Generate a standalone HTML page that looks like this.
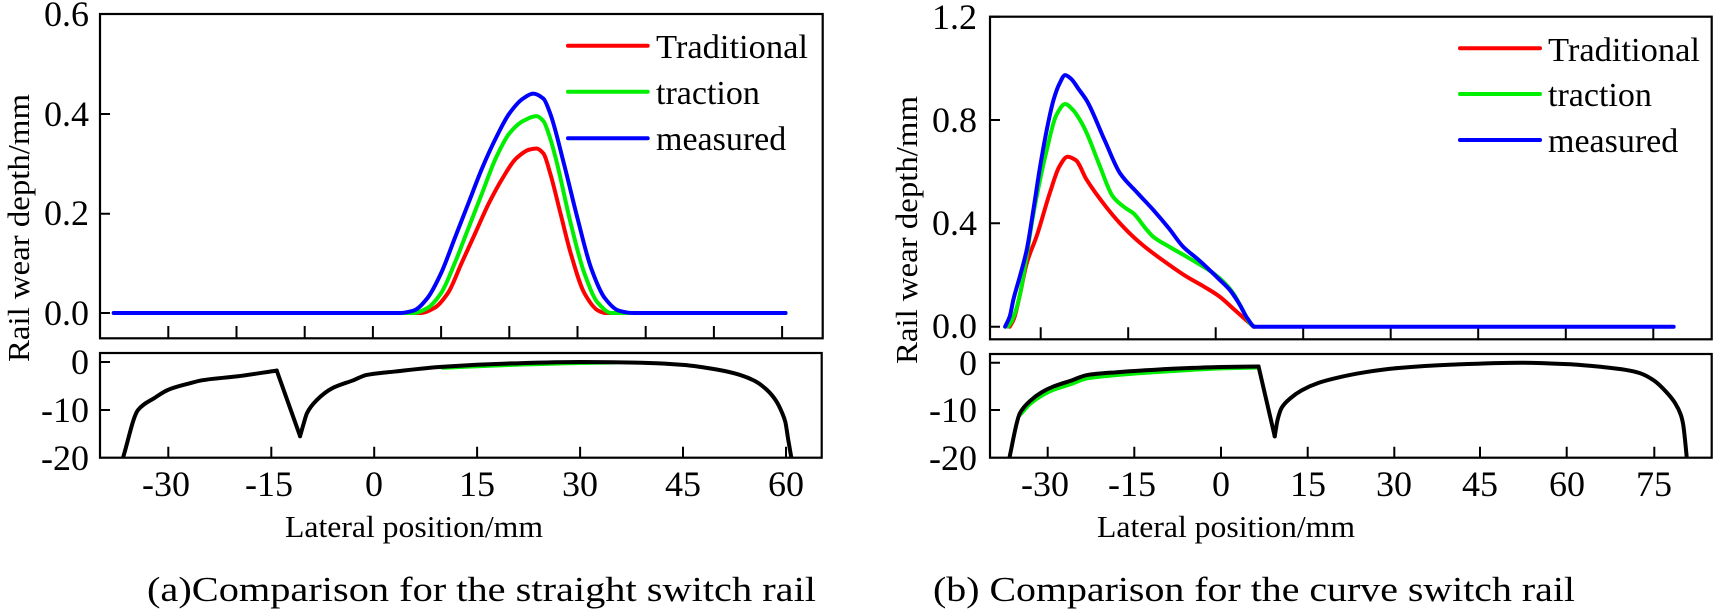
<!DOCTYPE html>
<html><head><meta charset="utf-8"><style>
html,body{margin:0;padding:0;background:#fff;}
svg{display:block;}
text{font-family:"Liberation Serif",serif;fill:#000;}
.s{fill:none;stroke-width:4;vector-effect:non-scaling-stroke;stroke-linejoin:round;stroke-linecap:round;}
.ax{fill:none;stroke:#000;stroke-width:2.2;}
.tk{font-size:36px;}
</style></head><body>
<svg id="sv" width="1714" height="615" viewBox="0 0 1714 615" xmlns="http://www.w3.org/2000/svg">
<defs>
<clipPath id="cl"><rect x="100" y="353" width="722" height="105"/></clipPath>
<clipPath id="cr"><rect x="990" y="354" width="722" height="104"/></clipPath>
</defs>

<!-- LEFT CHART -->
<rect class="ax" x="100" y="14" width="722.7" height="324.3"/>
<rect class="ax" x="100" y="353" width="721.7" height="104.7"/>
<g stroke="#000" stroke-width="2">
<path d="M100 114h10M100 213.7h10M100 313h10M100 14h10"/>
<path d="M168.3 338v-12M236.5 338v-12M304.7 338v-12M372.9 338v-12M441.1 338v-12M509.3 338v-12M577.5 338v-12M645.7 338v-12M713.9 338v-12M782.1 338v-12"/>
<path d="M100 362h10M100 410h10"/>
<path d="M168.3 457.7v-11M271.3 457.7v-11M374.2 457.7v-11M477.1 457.7v-11M580.1 457.7v-11M683.0 457.7v-11M786 457.7v-11"/>
</g>
<g class="tk" text-anchor="end">
<text x="89" y="26">0.6</text><text x="89" y="126">0.4</text><text x="89" y="225">0.2</text><text x="89" y="325">0.0</text>
<text x="89" y="374">0</text><text x="89" y="422">-10</text><text x="89" y="470">-20</text>
</g>
<g class="tk" text-anchor="middle">
<text x="166" y="496">-30</text><text x="269" y="496">-15</text><text x="374" y="496">0</text><text x="477" y="496">15</text><text x="580" y="496">30</text><text x="683" y="496">45</text><text x="786" y="496">60</text>
</g>
<text x="414" y="537" font-size="31" text-anchor="middle" textLength="258" lengthAdjust="spacingAndGlyphs">Lateral position/mm</text>
<text transform="translate(29,228) rotate(-90)" font-size="31" text-anchor="middle" textLength="268" lengthAdjust="spacingAndGlyphs">Rail wear depth/mm</text>
<text x="147" y="601" font-size="35" textLength="669" lengthAdjust="spacingAndGlyphs">(a)Comparison for the straight switch rail</text>

<g transform="matrix(6.82 0 0 -498.5 372.9 313)">
<polyline class="s" stroke="#ff0000" points="-38,0 7,0 9,0.01 11,0.04 13,0.1 15,0.16 17,0.22 19,0.27 21,0.31 23,0.328 24,0.33 25,0.32 26,0.28 27.5,0.2 29,0.12 31,0.04 33,0.005 34,0 60.5,0"/>
<polyline class="s" stroke="#00ee00" points="-38,0 6,0 8,0.01 10,0.04 12,0.1 14,0.17 16,0.24 18,0.31 20,0.36 22,0.385 24,0.395 25,0.385 26,0.35 27,0.3 29,0.18 31,0.08 33,0.02 35,0 60.5,0"/>
<polyline class="s" stroke="#0000ff" points="-38,0 4,0 6,0.005 8,0.03 10,0.08 12,0.15 14,0.22 16,0.29 18,0.35 20,0.4 22,0.43 23.5,0.44 25,0.43 26,0.4 28,0.3 30,0.19 32,0.09 34,0.03 36,0.005 38,0 60.5,0"/>
</g>
<g clip-path="url(#cl)">
<g transform="matrix(6.863 0 0 -4.785 374.2 362)">
<polyline class="s" stroke="#00ee00" points="10,-1.2 20,-0.6 30,-0.2 35,-0.1"/>
<polyline class="s" stroke="#000" points="-36.6,-20 -34.4,-10 -32,-7.5 -30,-5.8 -27,-4.5 -25,-3.8 -20,-3 -14.2,-1.8"/>
<polyline class="s" stroke="#000" points="-14.2,-1.8 -10.8,-15.5"/>
<polyline class="s" stroke="#000" points="-10.8,-15.5 -10.3,-13 -9.8,-10.7 -8.4,-8 -6,-5.4 -3,-3.8 -1.1,-2.7 3,-2 10,-1 20,-0.3 30,0 40,-0.2 45,-0.6 50,-1.6 53.3,-2.7 55.5,-4 57.2,-5.8 58.5,-8 59.4,-10.5 59.9,-12.5 60.3,-16 60.9,-21"/>
</g>
</g>
<g font-size="34">
<line x1="568" y1="45.7" x2="647.7" y2="45.7" stroke="#ff0000" stroke-width="4" stroke-linecap="round"/>
<line x1="568" y1="91.7" x2="647.7" y2="91.7" stroke="#00ee00" stroke-width="4" stroke-linecap="round"/>
<line x1="568" y1="138.3" x2="647.7" y2="138.3" stroke="#0000ff" stroke-width="4" stroke-linecap="round"/>
<text x="656" y="58" textLength="152" lengthAdjust="spacingAndGlyphs">Traditional</text>
<text x="656" y="104">traction</text>
<text x="656" y="150">measured</text>
</g>

<!-- RIGHT CHART -->
<rect class="ax" x="990" y="16.7" width="721.7" height="322.6"/>
<rect class="ax" x="990" y="354" width="721.7" height="103.7"/>
<g stroke="#000" stroke-width="2">
<path d="M990 16.7h10M990 120h10M990 223.3h10M990 326.7h10"/>
<path d="M1040.7 339.3v-12M1128.2 339.3v-12M1215.7 339.3v-12M1303.2 339.3v-12M1390.7 339.3v-12M1478.2 339.3v-12M1565.8 339.3v-12M1653.3 339.3v-12"/>
<path d="M990 362.7h10M990 410h10"/>
<path d="M1047.7 457.7v-11M1134.3 457.7v-11M1221 457.7v-11M1307.7 457.7v-11M1394.3 457.7v-11M1480 457.7v-11M1566.7 457.7v-11M1654.3 457.7v-11"/>
</g>
<g class="tk" text-anchor="end">
<text x="977" y="29">1.2</text><text x="977" y="132">0.8</text><text x="977" y="235">0.4</text><text x="977" y="338">0.0</text>
<text x="977" y="375">0</text><text x="977" y="422">-10</text><text x="977" y="470">-20</text>
</g>
<g class="tk" text-anchor="middle">
<text x="1045" y="496">-30</text><text x="1132" y="496">-15</text><text x="1221" y="496">0</text><text x="1308" y="496">15</text><text x="1394" y="496">30</text><text x="1480" y="496">45</text><text x="1567" y="496">60</text><text x="1654" y="496">75</text>
</g>
<text x="1226" y="537" font-size="31" text-anchor="middle" textLength="258" lengthAdjust="spacingAndGlyphs">Lateral position/mm</text>
<text transform="translate(917,230) rotate(-90)" font-size="31" text-anchor="middle" textLength="268" lengthAdjust="spacingAndGlyphs">Rail wear depth/mm</text>
<text x="933" y="601" font-size="35" textLength="642" lengthAdjust="spacingAndGlyphs">(b) Comparison for the curve switch rail</text>

<g transform="matrix(5.834 0 0 -258.3 1215.7 326.7)">
<polyline class="s" stroke="#ff0000" points="-35.3,0 -34.6,0.03 -33.6,0.12 -32.4,0.245 -30.7,0.35 -28.4,0.52 -26.8,0.62 -25.4,0.658 -24,0.645 -22.1,0.568 -19,0.47 -16.4,0.4 -13.5,0.335 -10.7,0.284 -8,0.24 -5,0.194 -2,0.155 0.7,0.116 3,0.07 5,0.03 6.5,0"/>
<polyline class="s" stroke="#00ee00" points="-35.6,0 -35,0.02 -34.3,0.06 -33.5,0.13 -32.5,0.26 -31.3,0.43 -29,0.68 -27.3,0.82 -25.8,0.862 -24.5,0.84 -23,0.79 -22.1,0.749 -20,0.63 -17.6,0.503 -15.5,0.46 -14.1,0.439 -12,0.38 -10.7,0.348 -8,0.31 -5,0.271 -0.4,0.207 1.5,0.17 3,0.13 4.5,0.07 6,0.01 6.7,0"/>
<polyline class="s" stroke="#0000ff" points="-36.1,0 -35.3,0.04 -34.7,0.103 -33.5,0.2 -32.4,0.297 -31.2,0.46 -30.1,0.62 -28.8,0.78 -27.8,0.878 -26.8,0.94 -25.8,0.974 -24.8,0.96 -23.5,0.92 -22.1,0.875 -19,0.72 -16.4,0.594 -13.5,0.52 -10.7,0.452 -8,0.38 -5.6,0.31 -3,0.26 0.7,0.181 2.5,0.14 4,0.09 5.5,0.03 6.7,0 78.5,0"/>
</g>
<g clip-path="url(#cr)">
<g transform="matrix(5.777 0 0 -4.75 1221 362.7)">
<polyline class="s" stroke="#00ee00" points="-34.8,-11 -33,-8.6 -31,-6.9 -29,-5.7 -26,-4.5 -23.2,-3.3 -18,-2.6 -11.7,-2 -5,-1.5 0,-1.2 6.5,-1"/>
<polyline class="s" stroke="#000" points="-36.8,-21 -34.8,-10.6 -33,-8 -31,-6.2 -29,-5 -26,-3.8 -23.2,-2.6 -18,-2 -11.7,-1.5 -5,-1.1 0,-0.9 6.5,-0.8"/>
<polyline class="s" stroke="#000" points="6.5,-0.8 9.3,-15.5"/>
<polyline class="s" stroke="#000" points="9.3,-15.5 9.8,-12 10.5,-9.5 12,-7.5 14,-5.8 17,-4.2 20,-3.2 25,-2 30,-1.2 40,-0.4 52,0 60,-0.3 66,-0.9 70,-1.5 72.5,-2.2 75,-3.8 77.1,-6.2 78.6,-8.5 79.6,-11 80,-13 80.3,-16 80.7,-21"/>
</g>
</g>
<g font-size="34">
<line x1="1460" y1="48.3" x2="1540" y2="48.3" stroke="#ff0000" stroke-width="4" stroke-linecap="round"/>
<line x1="1460" y1="94" x2="1540" y2="94" stroke="#00ee00" stroke-width="4" stroke-linecap="round"/>
<line x1="1460" y1="140" x2="1540" y2="140" stroke="#0000ff" stroke-width="4" stroke-linecap="round"/>
<text x="1548" y="61" textLength="152" lengthAdjust="spacingAndGlyphs">Traditional</text>
<text x="1548" y="106">traction</text>
<text x="1548" y="152">measured</text>
</g>
</svg>
<script>
(function(){
  var pls=document.querySelectorAll('polyline.s');
  for(var k=0;k<pls.length;k++){
    var pl=pls[k];
    var P=pl.getAttribute('points').trim().split(/\s+/).map(function(s){var a=s.split(',');return [+a[0],+a[1]];});
    var n=P.length;
    if(n<3)continue;
    var h=[],dl=[],m=[];
    for(var i=0;i<n-1;i++){h[i]=P[i+1][0]-P[i][0];dl[i]=(P[i+1][1]-P[i][1])/h[i];}
    m[0]=dl[0];m[n-1]=dl[n-2];
    for(var i=1;i<n-1;i++){
      if(dl[i-1]*dl[i]<=0){m[i]=0;}
      else{var w1=2*h[i]+h[i-1],w2=h[i]+2*h[i-1];m[i]=(w1+w2)/(w1/dl[i-1]+w2/dl[i]);}
    }
    var d='M'+P[0][0]+' '+P[0][1];
    for(var i=0;i<n-1;i++){
      var t=h[i]/3;
      d+=' C'+(P[i][0]+t)+' '+(P[i][1]+m[i]*t)+' '+(P[i+1][0]-t)+' '+(P[i+1][1]-m[i+1]*t)+' '+P[i+1][0]+' '+P[i+1][1];
    }
    var path=document.createElementNS('http://www.w3.org/2000/svg','path');
    path.setAttribute('d',d);
    path.setAttribute('class','s');
    path.setAttribute('stroke',pl.getAttribute('stroke'));
    pl.parentNode.replaceChild(path,pl);
  }
})();
</script>
</body></html>
